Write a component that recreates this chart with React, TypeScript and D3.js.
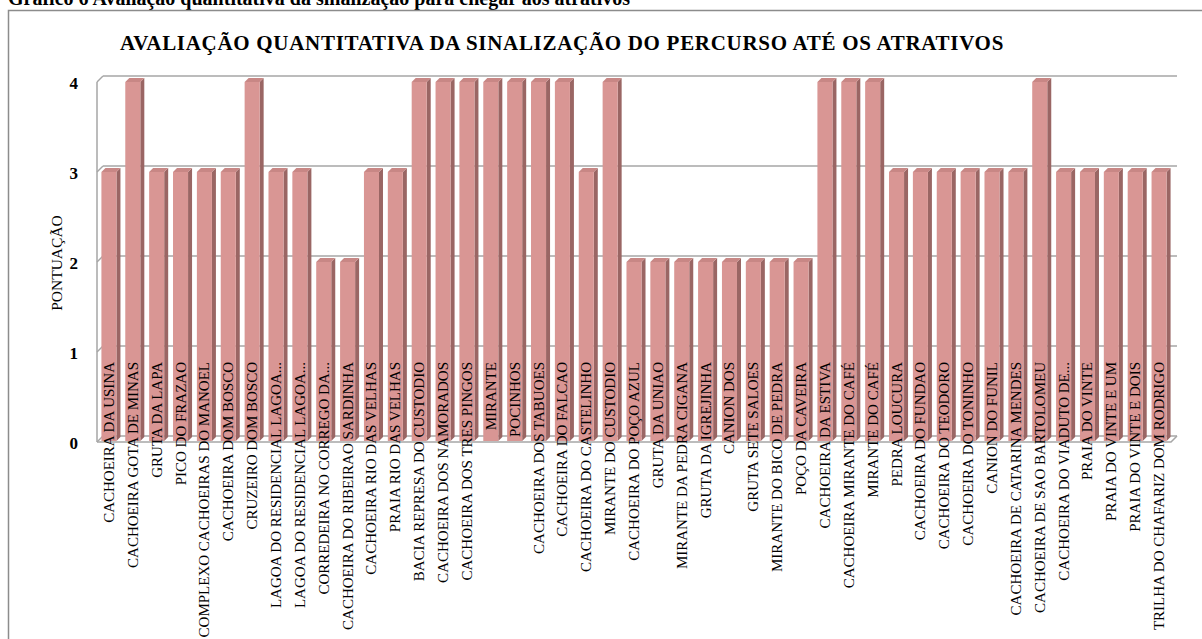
import React from "react";
import * as d3 from "d3";

const categories: string[] = [
  "CACHOEIRA DA USINA",
  "CACHOEIRA GOTA DE MINAS",
  "GRUTA DA LAPA",
  "PICO DO FRAZAO",
  "COMPLEXO CACHOEIRAS DO MANOEL",
  "CACHOEIRA DOM BOSCO",
  "CRUZEIRO DOM BOSCO",
  "LAGOA DO RESIDENCIAL LAGOA...",
  "LAGOA DO RESIDENCIAL LAGOA...",
  "CORREDEIRA NO CORREGO DA...",
  "CACHOEIRA DO RIBEIRAO SARDINHA",
  "CACHOEIRA RIO DAS VELHAS",
  "PRAIA RIO DAS VELHAS",
  "BACIA REPRESA DO CUSTODIO",
  "CACHOEIRA DOS NAMORADOS",
  "CACHOEIRA DOS TRES PINGOS",
  "MIRANTE",
  "POCINHOS",
  "CACHOEIRA DOS TABUOES",
  "CACHOEIRA DO FALCAO",
  "CACHOEIRA DO CASTELINHO",
  "MIRANTE DO CUSTODIO",
  "CACHOEIRA DO POÇO AZUL",
  "GRUTA DA UNIAO",
  "MIRANTE DA PEDRA CIGANA",
  "GRUTA DA IGREJINHA",
  "CANION DOS",
  "GRUTA SETE SALOES",
  "MIRANTE DO BICO DE PEDRA",
  "POÇO DA CAVEIRA",
  "CACHOEIRA DA ESTIVA",
  "CACHOEIRA MIRANTE DO CAFÉ",
  "MIRANTE DO CAFÉ",
  "PEDRA LOUCURA",
  "CACHOEIRA DO FUNDAO",
  "CACHOEIRA DO TEODORO",
  "CACHOEIRA DO TONINHO",
  "CANION DO FUNIL",
  "CACHOEIRA DE CATARINA MENDES",
  "CACHOEIRA DE SAO BARTOLOMEU",
  "CACHOEIRA DO VIADUTO DE...",
  "PRAIA DO VINTE",
  "PRAIA DO VINTE E UM",
  "PRAIA DO VINTE E DOIS",
  "TRILHA DO CHAFARIZ DOM RODRIGO",
];

const values: number[] = [
  3, 4, 3, 3, 3, 3, 4, 3, 3, 2, 2, 3, 3, 4, 4, 4, 4, 4, 4, 4, 3, 4, 2, 2, 2,
  2, 2, 2, 2, 2, 4, 4, 4, 3, 3, 3, 3, 3, 3, 4, 3, 3, 3, 3, 3,
];

const yTicks: number[] = [0, 1, 2, 3, 4];

const headerText =
  "Gráfico 6 Avaliação quantitativa da sinalização para chegar aos atrativos";
const chartTitle =
  "AVALIAÇÃO QUANTITATIVA DA SINALIZAÇÃO DO PERCURSO ATÉ OS ATRATIVOS";
const yAxisTitle = "PONTUAÇÃO";

const serif = '"Liberation Serif", "Times New Roman", "DejaVu Serif", serif';

export default function App() {
  const W = 1202;
  const H = 639;
  const left = 97;
  const right = 1171;
  const floorY = 442;
  const topY = 82;
  const wallDx = 6;
  const wallDy = -6;
  const depth = 4;

  const x = d3
    .scaleBand<number>()
    .domain(d3.range(categories.length))
    .range([left, right])
    .paddingInner(0.37)
    .paddingOuter(0.185);
  const y = d3.scaleLinear().domain([0, 4]).range([floorY, topY]);

  const bw = x.bandwidth();
  const front = "#D99694";
  const side = "#9A6664";
  const top = "#C88785";
  const grid = "#A6A6A6";
  const ts = { fontFamily: serif } as React.CSSProperties;

  return (
    <svg
      width={W}
      height={H}
      style={{ position: "absolute", left: 0, top: 0, background: "#fff", fontFamily: serif }}
    >
      <rect x={0} y={0} width={W} height={H} fill="#fff" />
      <text x={8} y={5} fontSize={20} fontWeight="bold" fill="#000" style={ts}>
        {headerText}
      </text>
      <path
        d={`M8.5,${H} L8.5,10.5 L${W},10.5`}
        fill="none"
        stroke="#8C8C8C"
        strokeWidth={1.5}
      />
      <text
        x={562}
        y={50}
        fontSize={21}
        fontWeight="bold"
        textAnchor="middle"
        fill="#000"
        style={{ ...ts, letterSpacing: "0.7px" }}
      >
        {chartTitle}
      </text>

      {yTicks.map((t) => (
        <g key={t}>
          <line
            x1={left}
            y1={y(t)}
            x2={left + wallDx}
            y2={y(t) + wallDy}
            stroke={grid}
            strokeWidth={1.5}
          />
          <line
            x1={left + wallDx}
            y1={y(t) + wallDy}
            x2={right + wallDx}
            y2={y(t) + wallDy}
            stroke={grid}
            strokeWidth={1.5}
          />
        </g>
      ))}
      <line
        x1={left}
        y1={y(4)}
        x2={left}
        y2={floorY}
        stroke={grid}
        strokeWidth={1.5}
      />

      {values.map((v, i) => {
        const x0 = x(i) as number;
        const x1 = x0 + bw;
        const yt = y(v);
        const yb = floorY - 1;
        return (
          <g key={i}>
            <polygon
              points={`${x1},${yt} ${x1 + depth},${yt - depth} ${x1 + depth},${yb - depth} ${x1},${yb}`}
              fill={side}
            />
            <polygon
              points={`${x0},${yt} ${x0 + depth},${yt - depth} ${x1 + depth},${yt - depth} ${x1},${yt}`}
              fill={top}
            />
            <rect x={x0} y={yt} width={bw} height={yb - yt} fill={front} />
          </g>
        );
      })}

      <path
        d={`M${left},${floorY} L${right},${floorY} L${right + wallDx},${floorY + wallDy}`}
        fill="none"
        stroke={grid}
        strokeWidth={1.5}
      />

      {yTicks.map((t) => (
        <text
          key={t}
          x={78}
          y={y(t) + 1}
          fontSize={17}
          fontWeight="bold"
          textAnchor="end"
          dominantBaseline="central"
          fill="#000"
          style={ts}
        >
          {t}
        </text>
      ))}
      <text
        transform={`translate(56,263) rotate(-90)`}
        fontSize={15.5}
        textAnchor="middle"
        dominantBaseline="central"
        fill="#000"
        style={ts}
      >
        {yAxisTitle}
      </text>

      {categories.map((c, i) => {
        const cx = (x(i) as number) + bw / 2;
        return (
          <text
            key={i}
            transform={`translate(${cx},362) rotate(-90)`}
            fontSize={15}
            textAnchor="end"
            dominantBaseline="central"
            fill="#000"
            style={ts}
          >
            {c}
          </text>
        );
      })}
    </svg>
  );
}
